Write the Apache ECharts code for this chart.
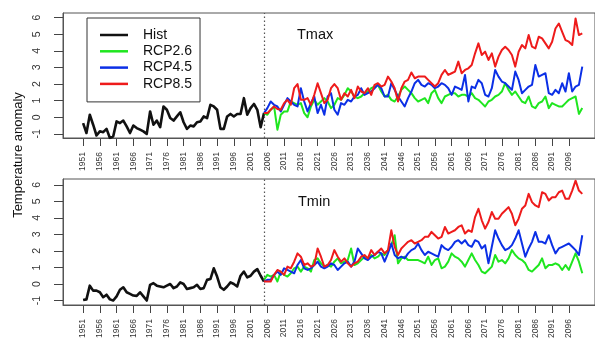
<!DOCTYPE html>
<html><head><meta charset="utf-8">
<script src="https://cdn.jsdelivr.net/npm/echarts@6/dist/echarts.min.js"></script>
<style>html,body{margin:0;padding:0;background:#fff}#c{width:595px;height:342px}</style>
</head><body><div id="c"></div>
<script>
const histStart = 1951;
const rcpStart = 2005;
const divideYear = 2005;
const xTicks = [1951,1956,1961,1966,1971,1976,1981,1986,1991,1996,2001,2006,2011,2016,2021,2026,2031,2036,2041,2046,2051,2056,2061,2066,2071,2076,2081,2086,2091,2096];
const yTicks = [-1,0,1,2,3,4,5,6];
const seriesNames = ['Hist','RCP2.6','RCP4.5','RCP8.5'];
const panelTitles = ['Tmax','Tmin'];

const tmaxHist = [-0.35,-0.95,0.15,-0.45,-1.1,-0.85,-0.9,-0.7,-1.25,-1.15,
 -0.25,-0.35,-0.2,-0.55,-0.95,-0.5,-0.65,-0.75,-0.85,-1.0,
 0.35,-0.45,-0.2,-0.6,0.65,0.45,-0.05,-0.2,0.05,0.3,
 -0.3,-0.7,-0.5,-0.55,-0.3,-0.25,0.05,-0.05,0.75,0.65,
 0.45,-0.7,-0.7,0.05,0.2,0.05,0.2,0.2,1.15,0.15,
 0.55,0.8,0.45,-0.6,0.25];
const tmaxRcp26 = [0.25,0.15,0.45,0.65,-0.75,0.15,0.35,0.35,0.95,0.85,
 0.75,0.85,0.25,0.0,0.65,1.05,0.75,0.95,1.15,0.95,
 0.55,0.75,1.15,1.05,1.35,1.75,1.55,1.25,1.15,1.25,
 1.45,1.55,1.75,1.85,1.95,1.55,1.25,1.35,1.05,0.95,
 1.25,1.65,1.85,1.65,1.45,1.15,
 0.95,1.05,1.15,0.85,1.45,1.65,1.15,0.85,1.25,1.35,
 1.45,1.45,1.25,1.35,1.35,1.25,1.45,1.15,1.05,0.85,
 0.65,0.95,1.05,1.25,1.35,1.55,2.05,1.65,1.35,1.55,
 1.25,0.95,0.85,1.25,0.65,0.55,0.85,0.95,1.25,0.55,
 0.85,0.75,0.65,0.65,0.85,1.05,1.15,1.25,0.2,0.55];
const tmaxRcp45 = [0.25,0.55,0.95,0.75,0.65,0.35,0.75,1.15,0.95,0.75,
 0.65,1.75,0.95,0.35,0.85,1.25,0.25,0.75,0.15,1.25,
 1.45,0.45,0.15,0.85,0.75,1.05,0.95,1.25,1.35,1.75,
 1.35,1.45,1.55,1.75,1.95,1.75,1.25,1.25,2.05,1.65,
 1.25,0.95,0.65,1.15,1.55,2.05,
 2.25,1.95,1.85,2.05,1.95,1.75,1.85,2.05,1.95,1.75,
 1.35,1.85,1.75,1.65,2.55,0.95,1.85,1.75,2.25,2.05,
 1.35,1.25,1.75,2.85,2.45,2.15,2.05,1.85,1.65,2.75,
 2.25,1.45,1.65,1.85,1.95,3.15,2.45,2.55,2.65,1.45,
 1.35,1.65,1.45,2.05,1.55,2.65,1.55,1.85,1.95,3.05];
const tmaxRcp85 = [0.25,0.25,0.45,0.65,0.5,0.45,0.85,1.05,0.75,1.75,
 2.0,1.05,1.05,1.15,0.75,1.35,2.05,1.45,0.85,1.05,
 1.75,2.0,1.75,1.05,1.45,1.25,1.65,1.15,1.85,1.55,
 1.45,1.75,1.35,1.95,2.05,1.85,1.95,2.45,2.15,1.75,
 0.95,1.75,2.15,2.25,2.7,2.35,
 2.45,2.45,2.45,2.25,2.05,1.85,2.05,2.55,2.85,2.55,
 2.65,2.75,3.35,2.65,2.85,2.95,3.15,3.85,4.45,3.75,
 3.95,3.45,3.85,3.05,3.65,4.05,4.25,4.05,3.75,3.05,
 3.95,4.35,4.15,4.95,4.25,4.15,4.85,4.75,4.45,4.15,
 4.55,5.35,5.65,5.15,4.65,4.55,4.35,5.95,4.95,5.05];

const tminHist = [-0.97,-0.93,-0.1,-0.4,-0.4,-0.5,-0.8,-0.65,-0.93,-1.0,
 -0.75,-0.35,-0.2,-0.5,-0.6,-0.7,-0.72,-0.5,-0.75,-1.0,
 -0.05,0.05,-0.1,-0.15,-0.2,-0.1,0.0,-0.25,-0.15,0.1,
 0.0,-0.3,-0.25,-0.2,-0.05,-0.3,-0.25,0.25,0.3,0.95,
 0.45,-0.2,-0.35,-0.15,0.1,0.0,-0.15,0.5,0.75,0.4,
 0.5,0.75,0.9,0.5,0.15];
const tminRcp26 = [0.25,0.55,0.45,0.55,0.15,0.75,0.55,0.45,0.65,0.95,
 1.05,0.75,1.05,0.95,0.75,1.45,1.55,1.25,1.05,1.15,
 1.05,1.35,1.55,1.25,1.35,1.45,2.15,1.15,1.25,1.45,
 1.65,1.55,1.75,1.55,1.65,1.85,1.75,2.05,2.35,2.95,
 1.25,1.55,1.65,1.45,1.45,1.45,
 1.45,1.35,1.25,1.65,1.15,1.45,1.55,0.95,1.05,1.35,
 1.85,1.65,1.55,1.35,1.05,1.45,1.85,1.45,1.15,0.75,
 0.65,0.85,1.05,1.75,1.35,1.45,1.25,1.55,2.05,1.75,
 1.55,1.45,1.25,0.85,0.75,0.95,1.15,1.55,0.95,1.15,
 1.15,1.25,1.15,0.85,1.15,0.85,1.35,1.85,1.35,0.65];
const tminRcp45 = [0.15,0.25,0.25,0.55,0.75,0.55,0.95,0.85,0.75,0.65,
 1.15,1.45,0.95,0.85,0.95,1.15,1.35,1.05,0.95,1.05,
 1.25,1.15,0.85,1.05,1.25,1.35,1.05,1.35,2.15,1.85,
 1.55,1.45,1.65,1.75,1.95,1.85,1.35,1.85,2.45,1.75,
 1.55,1.65,1.55,1.85,2.05,2.15,
 2.45,2.05,1.75,1.95,1.85,1.75,1.65,2.35,2.15,2.05,
 2.25,2.55,2.65,2.45,2.65,2.35,2.25,2.65,2.55,2.15,
 2.35,1.25,2.25,3.25,2.75,2.35,2.05,2.15,2.35,2.75,
 3.25,2.45,1.65,2.15,2.55,3.15,2.55,2.55,2.45,2.95,
 2.35,1.85,2.15,2.25,2.35,2.45,2.25,2.05,1.75,2.95];
const tminRcp85 = [0.15,0.15,0.15,0.55,0.85,0.75,0.55,1.05,0.95,1.35,
 1.85,1.65,1.15,1.25,1.05,1.15,2.15,1.65,1.05,1.15,
 1.45,2.05,1.65,1.35,1.55,1.25,1.05,1.25,1.35,1.65,
 1.75,1.55,2.05,1.75,1.95,2.15,1.85,2.05,3.25,2.25,
 1.75,2.15,2.35,2.55,2.65,2.45,
 2.55,2.65,2.85,2.85,3.15,2.95,2.75,2.85,3.45,3.05,
 3.15,3.25,3.45,3.55,3.05,3.25,3.15,4.05,4.55,3.85,
 3.35,3.75,4.35,3.95,3.95,4.25,4.45,4.65,4.25,3.55,
 3.95,4.55,4.75,5.45,4.95,4.75,4.65,5.55,5.45,5.05,
 5.25,5.25,5.55,5.65,5.15,5.15,5.65,6.25,5.65,5.45];

const colors = {'Hist':'#111111','RCP2.6':'#1fe61f','RCP4.5':'#0b2fe6','RCP8.5':'#ee1b1b'};
const widths = {'Hist':2.6,'RCP2.6':2,'RCP4.5':2,'RCP8.5':2};
const FONT = 'Liberation Sans, Arial, sans-serif';
const TICK = '#444';

function pairs(start, arr){ return arr.map((v,i)=>[start+i, v]); }

const panels = [
  {hist:tmaxHist, r26:tmaxRcp26, r45:tmaxRcp45, r85:tmaxRcp85, top:13, height:125, min:-1.25, max:6.28},
  {hist:tminHist, r26:tminRcp26, r45:tminRcp45, r85:tminRcp85, top:179, height:126, min:-1.27, max:6.35}
];
const X_MIN = 1945, X_MAX = 2103.8;

const grids = [], xAxes = [], yAxes = [], series = [];
panels.forEach((p, k) => {
  grids.push({left:63, top:p.top, width:535, height:p.height, show:true, borderColor:'#555', borderWidth:1});
  xAxes.push({type:'value', gridIndex:k, min:X_MIN, max:X_MAX, splitLine:{show:false},
    axisLine:{show:true, onZero:false, lineStyle:{color:'#555'}},
    axisTick:{show:false, customValues:xTicks},
    axisLabel:{customValues:xTicks, rotate:90, fontSize:8.5, color:'#333', margin:14, fontFamily:FONT,
      formatter:(v)=>String(v)}});
  yAxes.push({type:'value', gridIndex:k, min:p.min, max:p.max, splitLine:{show:false},
    axisLine:{show:true, onZero:false, lineStyle:{color:'#555'}},
    axisTick:{show:false, customValues:yTicks},
    axisLabel:{customValues:yTicks, rotate:90, fontSize:10.5, color:'#333', margin:20, fontFamily:FONT,
      formatter:(v)=>String(v)}});
  const defs = [['Hist', histStart, p.hist], ['RCP2.6', rcpStart, p.r26], ['RCP4.5', rcpStart, p.r45], ['RCP8.5', rcpStart, p.r85]];
  defs.forEach(([name, start, arr], j) => {
    const s = {name, type:'line', xAxisIndex:k, yAxisIndex:k, data:pairs(start, arr),
      symbol:'none', showSymbol:false, smooth:false, z: 2 + j,
      lineStyle:{color:colors[name], width:widths[name], join:'round'},
      itemStyle:{color:colors[name]}, emphasis:{disabled:true}};
    if (j === 0) {
      s.markLine = {silent:true, symbol:['none','none'], label:{show:false}, animation:false,
        lineStyle:{type:[1.5,2.5], color:'#555', width:1.2}, emphasis:{disabled:true},
        data:[{xAxis: divideYear}]};
    }
    series.push(s);
  });
});

// Tick strips: thin grids beside each panel whose split lines, on the same scales, draw the tick marks.
panels.forEach((p) => {
  // x-tick strip below the panel
  let gi = grids.length;
  grids.push({left:63, top:p.top + p.height, width:535, height:8, show:false});
  xAxes.push({type:'value', gridIndex:gi, min:X_MIN, max:X_MAX,
    axisLine:{show:false, onZero:false}, axisLabel:{show:false},
    axisTick:{show:false, customValues:xTicks},
    splitLine:{show:true, lineStyle:{color:TICK, width:1}}});
  yAxes.push({type:'value', gridIndex:gi, min:0, max:1, show:false});
  // y-tick strip left of the panel
  gi = grids.length;
  grids.push({left:54, top:p.top, width:9, height:p.height, show:false});
  xAxes.push({type:'value', gridIndex:gi, min:0, max:1, show:false});
  yAxes.push({type:'value', gridIndex:gi, min:p.min, max:p.max,
    axisLine:{show:false, onZero:false}, axisLabel:{show:false},
    axisTick:{show:false, customValues:yTicks},
    splitLine:{show:true, lineStyle:{color:TICK, width:1}}});
});

const chart = echarts.init(document.getElementById('c'), null, {renderer:'canvas'});
chart.setOption({
  animation:false,
  backgroundColor:'#ffffff',
  grid:grids, xAxis:xAxes, yAxis:yAxes, series,
  legend:{data:seriesNames, orient:'vertical', left:87, top:18, padding:[9,8,10,13],
    borderColor:'#333', borderWidth:1, backgroundColor:'#fff', icon:'rect',
    itemWidth:28, itemHeight:2.5, itemGap:0.3, selectedMode:false,
    textStyle:{fontSize:14, color:'#111', lineHeight:16, padding:[0,0,0,10], fontFamily:FONT}},
  graphic:[
    {type:'text', left:297, top:27, style:{text:panelTitles[0], fontSize:14.5, fill:'#111', fontFamily:FONT}},
    {type:'text', left:298, top:194, style:{text:panelTitles[1], fontSize:14.5, fill:'#111', fontFamily:FONT}},
    {type:'text', x:18, y:155, rotation:Math.PI/2, style:{text:'Temperature anomaly', fontSize:13, fill:'#111', align:'center', verticalAlign:'middle', fontFamily:FONT}}
  ]
});
</script></body></html>
